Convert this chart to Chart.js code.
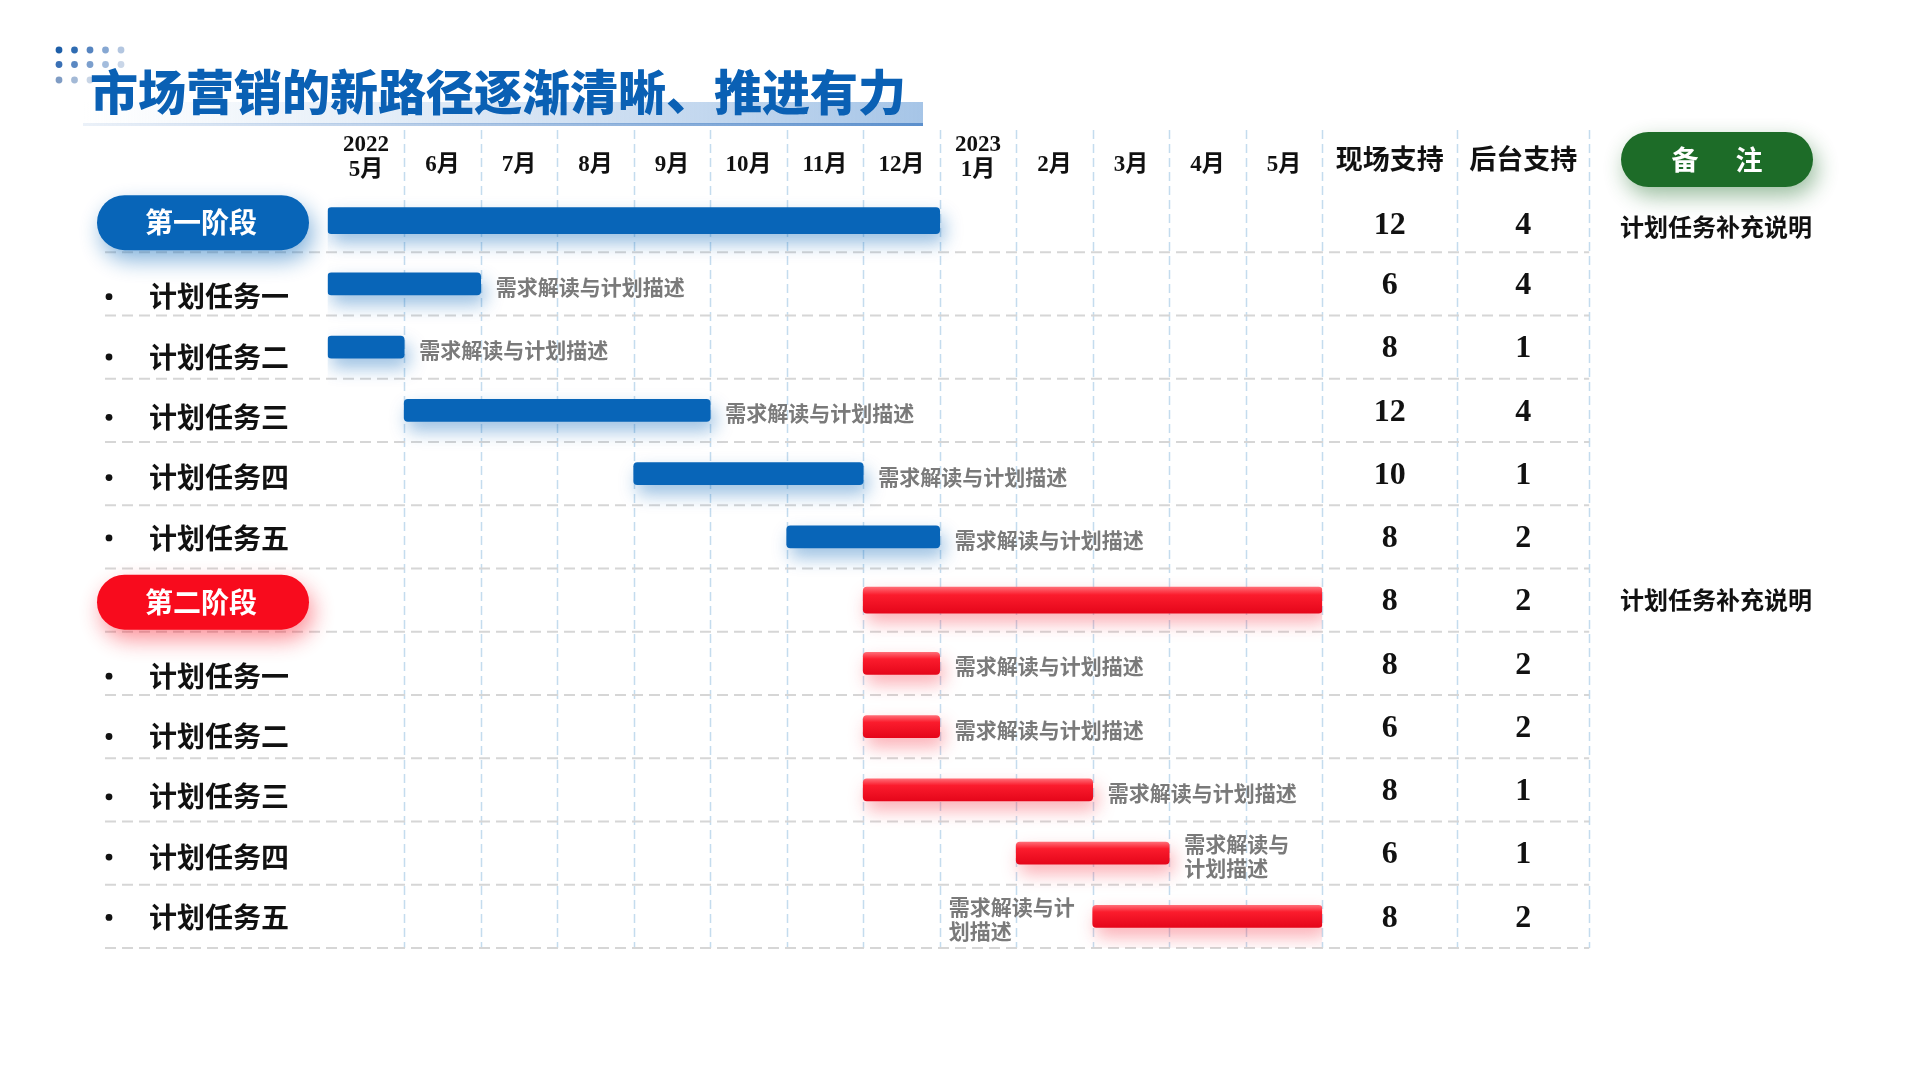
<!DOCTYPE html>
<html><head><meta charset="utf-8">
<script src="https://cdn.jsdelivr.net/npm/chart.js@4.4.1/dist/chart.umd.min.js"></script>
<style>html,body{margin:0;padding:0;background:#fff;}canvas{display:block;}</style>
</head><body>
<canvas id="c" width="1920" height="1080"></canvas>
<script>
const title = '市场营销的新路径逐渐清晰、推进有力';
const monthLabels = [['2022','5月'],'6月','7月','8月','9月','10月','11月','12月',['2023','1月'],'2月','3月','4月','5月'];
const tableHeaders = ['现场支持','后台支持'];
const noteHeader = ['备','注'];
const rowLabels = ['第一阶段','计划任务一','计划任务二','计划任务三','计划任务四','计划任务五','第二阶段','计划任务一','计划任务二','计划任务三','计划任务四','计划任务五'];
const phaseRows = [0,6];
const barStart = [0,0,0,1,4,6,7,7,7,7,9,10];
const barEnd   = [8,2,1,5,7,8,13,8,8,10,11,13];
const fieldSupport = [12,6,8,12,10,8,8,8,6,8,6,8];
const backSupport  = [4,4,1,4,1,2,2,2,2,1,1,2];
const notes = ['计划任务补充说明','','','','','','计划任务补充说明','','','','',''];
const barNotes = [[],['需求解读与计划描述'],['需求解读与计划描述'],['需求解读与计划描述'],['需求解读与计划描述'],['需求解读与计划描述'],[],['需求解读与计划描述'],['需求解读与计划描述'],['需求解读与计划描述'],['需求解读与','计划描述'],['需求解读与计','划描述']];

const CJK = '"Noto Sans CJK SC", sans-serif';
const SERIF = '"Liberation Serif", "Noto Sans CJK SC", serif';
const BLUE = '#0865b8', RED = '#f40d1f', GREEN = '#1d6c28';
const PHASE_T = 26, TASK_T = 22;
const LIST_GAP = 60.3;

const groupOf = i => (i >= phaseRows[1] ? 1 : 0);
const isPhase = i => phaseRows.includes(i);

function redGradient(ctx, thick) {
  const chart = ctx.chart, y = chart.scales && chart.scales.y;
  if (!y || ctx.dataIndex == null) return RED;
  const yc = y.getPixelForValue(ctx.dataIndex);
  if (!isFinite(yc)) return RED;
  const g = chart.ctx.createLinearGradient(0, yc - thick/2, 0, yc + thick/2);
  g.addColorStop(0, '#ff6a74');
  g.addColorStop(0.3, '#fb1c2d');
  g.addColorStop(1, '#e5061a');
  return g;
}

const datasets = [];
[0,1].forEach(g => {
  [true,false].forEach(ph => {
    const thick = ph ? PHASE_T : TASK_T;
    datasets.push({
      label: (g ? 'p2' : 'p1') + (ph ? 'phase' : 'task'),
      group: g,
      data: rowLabels.map((_, i) => (groupOf(i) === g && isPhase(i) === ph) ? [barStart[i], barEnd[i]] : null),
      backgroundColor: g === 0 ? BLUE : (c => redGradient(c, thick)),
      barThickness: thick,
      borderRadius: 4,
      borderSkipped: false,
      grouped: false
    });
  });
});

function pill(ctx, x, y, w, h, color, shadow, sx, sy) {
  ctx.save();
  ctx.shadowColor = shadow; ctx.shadowBlur = 22; ctx.shadowOffsetX = sx; ctx.shadowOffsetY = sy;
  ctx.fillStyle = color;
  ctx.beginPath(); ctx.roundRect(x, y, w, h, h/2); ctx.fill();
  ctx.restore();
}

const bgPlugin = {
  id: 'bg',
  beforeDatasetsDraw(chart) {
    const ctx = chart.ctx, xs = chart.scales.x, ys = chart.scales.y, ca = chart.chartArea;
    ctx.save();
    const dotX = [59, 74.5, 90, 105.5, 121], dotY = [50, 64.5, 80];
    const dotC = [['#1d5ea8','#2f6cb2','#5584c0','#86a7d2','#b3c6e0'],
                  ['#3a70b5','#5a88c2','#7c9fcd','#a3bcdc','#c9d6e8'],
                  ['#7f9cc4','#a3b9d6','#c8d5e6']];
    dotC.forEach((row, r) => row.forEach((c, k) => {
      ctx.fillStyle = c; ctx.beginPath(); ctx.arc(dotX[k], dotY[r], 3.4, 0, Math.PI*2); ctx.fill();
    }));
    let g = ctx.createLinearGradient(83, 0, 923, 0);
    g.addColorStop(0, 'rgba(200,220,240,0)');
    g.addColorStop(0.5, 'rgba(190,212,237,0.6)');
    g.addColorStop(1, '#a6c5e7');
    ctx.fillStyle = g; ctx.fillRect(83, 102, 840, 22);
    g = ctx.createLinearGradient(83, 0, 923, 0);
    g.addColorStop(0, 'rgba(120,160,210,0.15)');
    g.addColorStop(1, '#5b8fcc');
    ctx.fillStyle = g; ctx.fillRect(83, 123, 840, 3);
    ctx.fillStyle = '#0a60b4';
    ctx.font = '900 48px ' + CJK;
    ctx.textBaseline = 'middle'; ctx.textAlign = 'left';
    ctx.fillText(title, 90, 92);

    const xEnd = xs.getPixelForValue(xs.max);
    const colEdges = [xEnd, xEnd + 135, xEnd + 267];
    ctx.strokeStyle = '#c4dcee'; ctx.lineWidth = 1.5; ctx.setLineDash([9, 5]);
    const vx = [];
    for (let v = 1; v <= xs.max; v++) vx.push(xs.getPixelForValue(v));
    vx.push(colEdges[1], colEdges[2]);
    vx.forEach(x => { ctx.beginPath(); ctx.moveTo(Math.round(x)+0.5, 130); ctx.lineTo(Math.round(x)+0.5, ca.bottom); ctx.stroke(); });
    ctx.strokeStyle = '#d6d6d6'; ctx.lineWidth = 2; ctx.setLineDash([11, 6]);
    for (let k = 0; k < rowLabels.length; k++) {
      const y = ys.getPixelForValue(k + 0.5);
      ctx.beginPath(); ctx.moveTo(105, y); ctx.lineTo(colEdges[2], y); ctx.stroke();
    }
    ctx.setLineDash([]);

    ctx.fillStyle = '#111'; ctx.textAlign = 'center';
    ctx.font = 'bold 23px ' + SERIF;
    monthLabels.forEach((m, i) => {
      const x = xs.getPixelForValue(i + 0.5);
      if (Array.isArray(m)) { ctx.fillText(m[0], x, 145); ctx.fillText(m[1], x, 170); }
      else ctx.fillText(m, x, 165);
    });
    ctx.font = 'bold 27px ' + CJK;
    tableHeaders.forEach((h, k) => ctx.fillText(h, (colEdges[k] + colEdges[k+1]) / 2, 159));
    pill(ctx, 1621, 132, 192, 55, GREEN, 'rgba(29,108,40,0.45)', 4, 9);
    ctx.fillStyle = '#fff'; ctx.font = 'bold 27px ' + CJK;
    ctx.fillText(noteHeader[0], 1685, 160); ctx.fillText(noteHeader[1], 1749, 160);

    rowLabels.forEach((lab, i) => {
      const yc = ys.getPixelForValue(i);
      if (isPhase(i)) {
        const g0 = groupOf(i) === 0;
        pill(ctx, 97, yc - 25.5, 212, 55, g0 ? BLUE : '#f80b1d', g0 ? 'rgba(8,101,184,0.5)' : 'rgba(248,11,29,0.45)', 4, 10);
        ctx.fillStyle = '#fff'; ctx.font = 'bold 28px ' + CJK; ctx.textAlign = 'center';
        ctx.fillText(lab, 201, yc + 2);
      } else {
        const last = phaseRows[groupOf(i)] + 5;
        const ly = ys.getPixelForValue(last) + 1 - (last - i) * LIST_GAP;
        ctx.fillStyle = '#111';
        ctx.beginPath(); ctx.arc(109, ly, 3.4, 0, Math.PI*2); ctx.fill();
        ctx.font = 'bold 28px ' + CJK; ctx.textAlign = 'left';
        ctx.fillText(lab, 149, ly);
      }
      ctx.fillStyle = '#111'; ctx.textAlign = 'center';
      ctx.font = 'bold 32px ' + SERIF;
      const ny = yc + (i === 0 ? 5 : 2);
      ctx.fillText(String(fieldSupport[i]), (colEdges[0] + colEdges[1]) / 2, ny);
      ctx.fillText(String(backSupport[i]), (colEdges[1] + colEdges[2]) / 2, ny);
      if (notes[i]) {
        ctx.font = 'bold 24px ' + CJK;
        ctx.fillText(notes[i], 1716, yc + (i === 0 ? 6 : 0));
      }
    });
    ctx.restore();
  },
  afterDatasetsDraw(chart) {
    const ctx = chart.ctx, xs = chart.scales.x, ys = chart.scales.y;
    ctx.save();
    ctx.fillStyle = '#7a7a7a'; ctx.font = 'bold 21px ' + CJK; ctx.textBaseline = 'middle'; ctx.textAlign = 'left';
    barNotes.forEach((lines, i) => {
      if (!lines.length) return;
      const yc = ys.getPixelForValue(i) + 3;
      const lh = 24, y0 = yc - (lines.length - 1) * lh / 2;
      let x;
      if (barEnd[i] >= xs.max) {
        const w = Math.max(...lines.map(l => ctx.measureText(l).width));
        x = xs.getPixelForValue(barStart[i]) - 18 - w;
      } else {
        x = xs.getPixelForValue(barEnd[i]) + 15;
      }
      lines.forEach((l, k) => ctx.fillText(l, x, y0 + k * lh));
    });
    ctx.restore();
  }
};

const shadowPlugin = {
  id: 'barShadow',
  beforeDatasetDraw(chart, args) {
    const ds = chart.data.datasets[args.index];
    const ctx = chart.ctx;
    ctx.save();
    ctx.shadowColor = ds.group === 0 ? 'rgba(8,101,184,0.42)' : 'rgba(245,20,40,0.35)';
    ctx.shadowBlur = 18; ctx.shadowOffsetX = 4; ctx.shadowOffsetY = 9;
  },
  afterDatasetDraw(chart) { chart.ctx.restore(); }
};

new Chart(document.getElementById('c'), {
  type: 'bar',
  data: { labels: rowLabels, datasets },
  options: {
    indexAxis: 'y',
    responsive: false,
    animation: false,
    devicePixelRatio: 1,
    layout: { padding: { left: 327.7, right: 1920 - 1322.2, top: 189, bottom: 1080 - 948 } },
    scales: {
      x: { type: 'linear', min: 0, max: 13, display: false },
      y: { type: 'category', display: false, offset: true }
    },
    plugins: { legend: { display: false }, tooltip: { enabled: false } }
  },
  plugins: [bgPlugin, shadowPlugin]
});
</script>
</body></html>
